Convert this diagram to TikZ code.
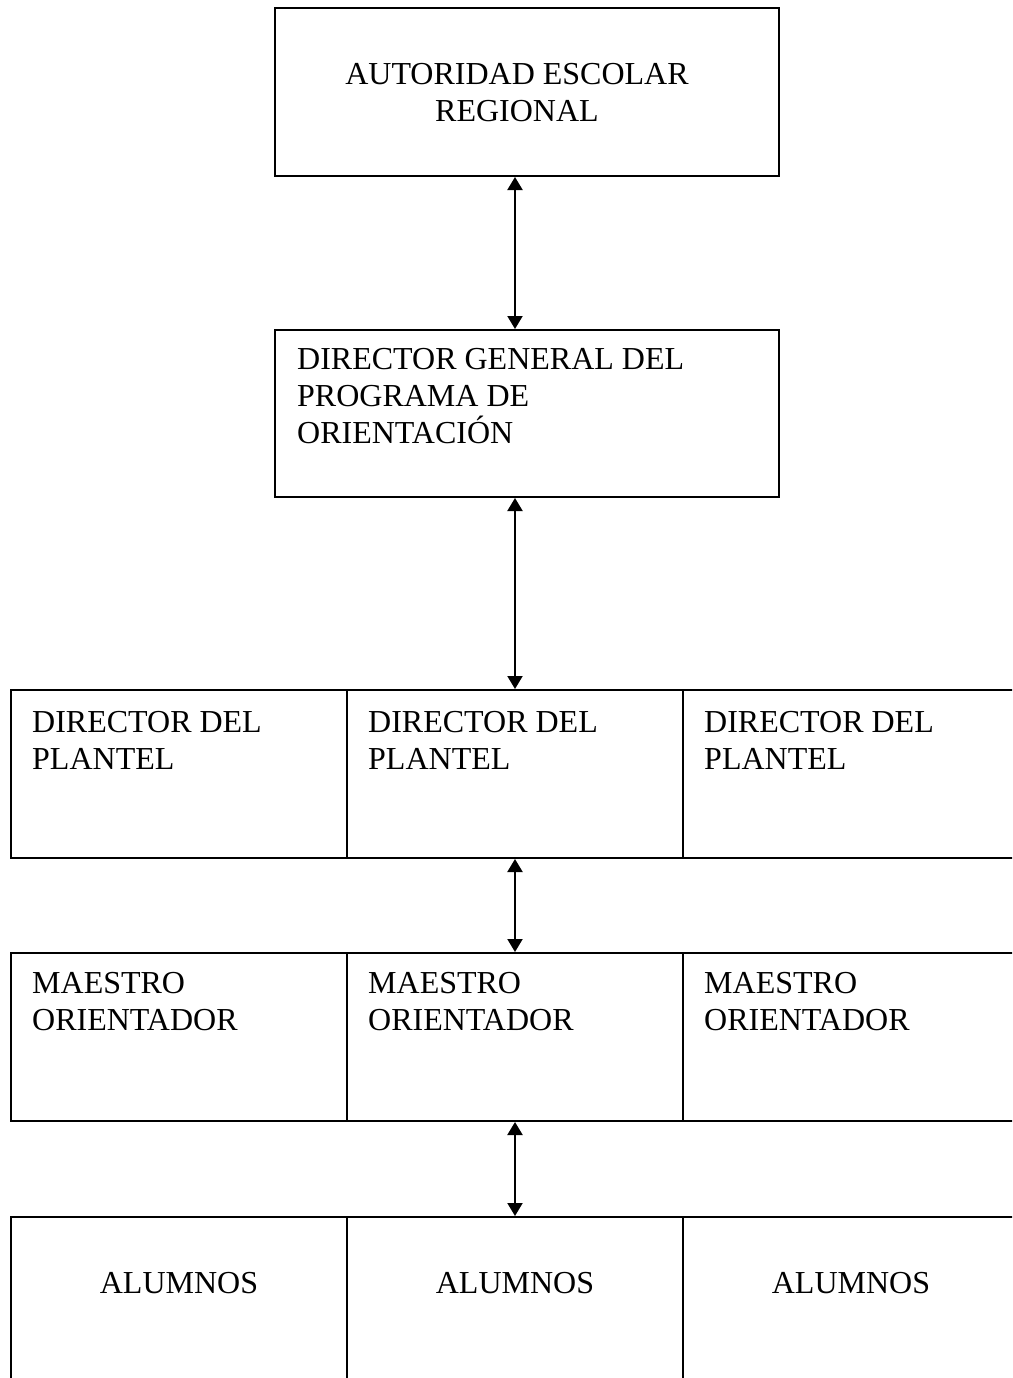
\documentclass[tikz,border=0pt]{standalone}
\usepackage{fontspec}
\setmainfont{Liberation Serif}
\usetikzlibrary{arrows.meta}
\begin{document}
\begin{tikzpicture}[x=1pt,y=-1pt,
  bigbox/.style={draw,line width=2pt,rectangle,inner sep=0pt,minimum width=504pt,minimum height=168pt},
  cell/.style={draw,line width=2pt,rectangle,inner sep=0pt,minimum width=336pt,minimum height=168pt},
  txtc/.style={inner sep=0pt,font=\fontsize{32}{37}\selectfont,align=center,anchor=base},
  txtl/.style={inner sep=0pt,font=\fontsize{32}{37}\selectfont,align=left,anchor=base west},
  conn/.style={line width=2pt,{Triangle[length=13pt,width=15pt]}-{Triangle[length=13pt,width=15pt]}}
]
\useasboundingbox (0,0) rectangle (1012,1378);
\clip (0,0) rectangle (1012,1378);

% boxes
\node[bigbox] (aut) at (527,92) {};
\node[bigbox,minimum height=167pt] (dg) at (527,413.5) {};

\node[cell] (d1) at (179,774) {};
\node[cell] (d2) at (515,774) {};
\node[cell] (d3) at (851,774) {};

\node[cell] (m1) at (179,1037) {};
\node[cell] (m2) at (515,1037) {};
\node[cell] (m3) at (851,1037) {};

\node[cell] (a1) at (179,1301) {};
\node[cell] (a2) at (515,1301) {};
\node[cell] (a3) at (851,1301) {};

% texts (base anchor = baseline of the last line)
\node[txtc] (taut) at (517,122) {AUTORIDAD ESCOLAR\\REGIONAL};
\node[txtl] (tdg) at (297,443) {DIRECTOR GENERAL DEL\\PROGRAMA DE\\ORIENTACIÓN};

\node[txtl] (td1) at (32,769) {DIRECTOR DEL\\PLANTEL};
\node[txtl] (td2) at (368,769) {DIRECTOR DEL\\PLANTEL};
\node[txtl] (td3) at (704,769) {DIRECTOR DEL\\PLANTEL};

\node[txtl] (tm1) at (32,1030) {MAESTRO\\ORIENTADOR};
\node[txtl] (tm2) at (368,1030) {MAESTRO\\ORIENTADOR};
\node[txtl] (tm3) at (704,1030) {MAESTRO\\ORIENTADOR};

\node[txtc] (ta1) at (179,1293) {ALUMNOS};
\node[txtc] (ta2) at (515,1293) {ALUMNOS};
\node[txtc] (ta3) at (851,1293) {ALUMNOS};

% connectors
\coordinate (ax) at (515,0);
\draw[conn] (aut.south -| ax) -- (dg.north -| ax);
\draw[conn] (dg.south -| ax) -- (d2.north -| ax);
\draw[conn] (d2.south -| ax) -- (m2.north -| ax);
\draw[conn] (m2.south -| ax) -- (a2.north -| ax);
\end{tikzpicture}
\end{document}
